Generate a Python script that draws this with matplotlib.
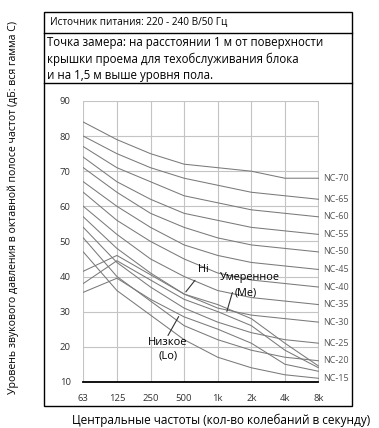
import matplotlib
matplotlib.use("Agg")
import matplotlib.pyplot as plt
from matplotlib.lines import Line2D
from matplotlib.patches import Rectangle

plt.rcParams['font.family'] = ['Open Sans', 'DejaVu Sans']

# данные
freqs = ["63", "125", "250", "500", "1k", "2k", "4k", "8k"]
nc_names = ["NC-70", "NC-65", "NC-60", "NC-55", "NC-50", "NC-45",
            "NC-40", "NC-35", "NC-30", "NC-25", "NC-20", "NC-15"]
nc70 = [84, 79, 75, 72, 71, 70, 68, 68]
nc65 = [80, 75, 71, 68, 66, 64, 63, 62]
nc60 = [77, 71, 67, 63, 61, 59, 58, 57]
nc55 = [74, 67, 62, 58, 56, 54, 53, 52]
nc50 = [71, 64, 58, 54, 51, 49, 48, 47]
nc45 = [67, 60, 54, 49, 46, 44, 43, 42]
nc40 = [64, 56, 50, 45, 41, 39, 38, 37]
nc35 = [60, 52, 45, 40, 36, 34, 33, 32]
nc30 = [57, 48, 41, 35, 31, 29, 28, 27]
nc25 = [54, 44, 37, 31, 27, 24, 22, 21]
nc20 = [51, 40, 33, 26, 22, 19, 17, 16]
nc15 = [47, 36, 29, 22, 17, 14, 12, 11]
nc_curves = [nc70, nc65, nc60, nc55, nc50, nc45, nc40, nc35, nc30, nc25, nc20, nc15]

hi = [41.5, 46, 40.5, 35, 32, 28, 21, 14.5]
me = [38, 44.5, 39, 33.5, 30, 26, 19, 14]
lo = [35.5, 39.5, 33.5, 28.5, 25, 21, 15, 13]

W, H = 379, 428
fig = plt.figure(figsize=(W / 100, H / 100), dpi=100)

# рамка и шапка
def fx(p):
    return p / W

def fy(p):
    return 1 - p / H

fig.patches.append(Rectangle((fx(44), fy(406)), fx(352) - fx(44), fy(12) - fy(406),
                             transform=fig.transFigure, fill=False, ec="black", lw=1.0))
for yy in [33, 83]:
    fig.lines.append(Line2D([fx(44), fx(352)], [fy(yy), fy(yy)],
                            transform=fig.transFigure, color="black", lw=1.0))

fig.text(fx(50), fy(22.5), "Источник питания: 220 - 240 В/50 Гц",
         fontsize=7.2, va="center", ha="left")
fig.text(fx(47), fy(59), "Точка замера: на расстоянии 1 м от поверхности\n"
         "крышки проема для техобслуживания блока\n"
         "и на 1,5 м выше уровня пола.",
         fontsize=8.3, va="center", ha="left", linespacing=1.3)

fig.text(fx(13), fy(207), "Уровень звукового давления в октавной полосе частот (дБ: вся гамма С)",
         rotation=90, fontsize=7.6, va="center", ha="center")
fig.text(fx(221), fy(420), "Центральные частоты (кол-во колебаний в секунду)",
         fontsize=8.5, va="center", ha="center")

ax = fig.add_axes([fx(83.3), fy(381.8), fx(318.5) - fx(83.3), fy(101) - fy(381.8)])
x = list(range(len(freqs)))

for v in range(20, 91, 10):
    ax.axhline(v, color="#c4c4c4", lw=0.8, zorder=0)
for i in x:
    ax.axvline(i, color="#c4c4c4", lw=0.8, zorder=0)

for name, vals in zip(nc_names, nc_curves):
    ax.plot(x, vals, color="#7a7a7a", lw=0.75, zorder=2)
    ax.text(7.15, vals[-1], name, fontsize=6.5, color="#555555", va="center",
            ha="left", clip_on=False)

for vals in [hi, me, lo]:
    ax.plot(x, vals, color="#7a7a7a", lw=0.75, zorder=2)

ax.set_xlim(0, 7)
ax.set_ylim(10, 90)
ax.set_xticks(x)
ax.set_xticklabels(freqs)
ax.set_yticks(range(10, 91, 10))
ax.tick_params(length=0, labelsize=6.8, colors="#333333", pad=9)
for s in ["top", "right", "left"]:
    ax.spines[s].set_visible(False)
ax.spines["bottom"].set_linewidth(1.3)
ax.spines["bottom"].set_color("black")

arrow = dict(arrowstyle="-", color="#333333", lw=0.8)
ax.annotate("Hi", xy=(3.0, 35.0), xytext=(3.57, 41.9), fontsize=7.8,
            ha="center", va="center", arrowprops=arrow)
ax.annotate("", xy=(4.25, 29.3), xytext=(4.46, 36.2), arrowprops=arrow)
ax.text(4.96, 39.6, "Умеренное", fontsize=7.8, ha="center", va="center")
ax.text(4.82, 35.4, "(Me)", fontsize=7.8, ha="center", va="center")
ax.annotate("", xy=(2.88, 29.3), xytext=(2.48, 22.5), arrowprops=arrow)
ax.text(2.52, 21.1, "Низкое", fontsize=8, ha="center", va="center")
ax.text(2.52, 17.4, "(Lo)", fontsize=8, ha="center", va="center")

fig.savefig("out.png", dpi=100)
